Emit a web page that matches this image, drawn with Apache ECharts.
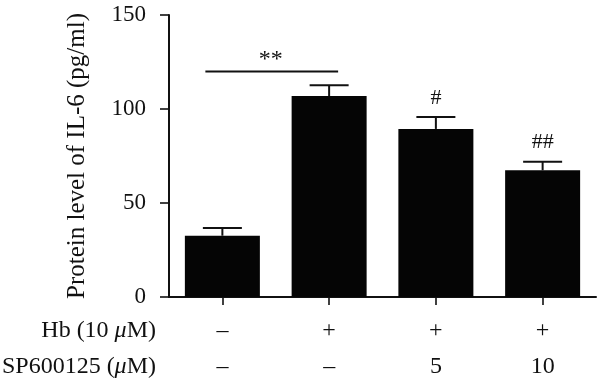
<!DOCTYPE html>
<html>
<head>
<meta charset="utf-8">
<script src="https://cdn.jsdelivr.net/npm/echarts@6/dist/echarts.min.js"></script>
<style>html,body{margin:0;padding:0;background:#fff;}#c{width:597px;height:385px;}</style>
</head>
<body>
<div id="c"></div>
<script>
const categories = ['Control', 'Hb', 'Hb+SP5', 'Hb+SP10'];
const means = [32.6, 106.9, 89.4, 67.4];
const errors = [4.1, 5.7, 6.3, 4.6];
const hbRow = ['–', '+', '+', '+'];
const spRow = ['–', '–', '5', '10'];
const marks = ['', '', '#', '##'];
const yTicks = [0, 50, 100, 150];
const sigLevel = 120;
const sigText = '**';

const FONT = 'Liberation Serif';
const chart = echarts.init(document.getElementById('c'), null, {renderer: 'canvas'});

const errData = categories.map((c, i) => [i, means[i], means[i] + errors[i], marks[i]]);

const option = {
  animation: false,
  backgroundColor: '#fff',
  grid: {left: 169, top: 15, right: 1, bottom: 88, outerBoundsMode: 'none', containLabel: false},
  xAxis: [
    {
      type: 'category', data: categories, position: 'bottom',
      axisLine: {lineStyle: {color: '#111', width: 2}},
      axisTick: {show: true, alignWithLabel: true, length: 8, lineStyle: {color: '#111', width: 1.6}},
      axisLabel: {show: false}
    },
    {
      type: 'category', data: hbRow, position: 'bottom', offset: 34,
      axisLine: {show: false}, axisTick: {show: false},
      axisLabel: {margin: 0, verticalAlign: 'middle', fontFamily: FONT, fontSize: 24, color: '#111'},
      name: 'Hb (10 {i|μ}M)', nameLocation: 'start', nameGap: 13,
      nameTextStyle: {fontFamily: FONT, fontSize: 24, color: '#111', verticalAlign: 'middle',
        rich: {i: {fontFamily: FONT, fontSize: 24, fontStyle: 'italic', color: '#111'}}}
    },
    {
      type: 'category', data: spRow, position: 'bottom', offset: 70,
      axisLine: {show: false}, axisTick: {show: false},
      axisLabel: {margin: 0, verticalAlign: 'middle', fontFamily: FONT, fontSize: 24, color: '#111'},
      name: 'SP600125 ({i|μ}M)', nameLocation: 'start', nameGap: 13,
      nameTextStyle: {fontFamily: FONT, fontSize: 24, color: '#111', verticalAlign: 'middle',
        rich: {i: {fontFamily: FONT, fontSize: 24, fontStyle: 'italic', color: '#111'}}}
    }
  ],
  yAxis: {
    type: 'value', min: yTicks[0], max: yTicks[yTicks.length - 1], interval: yTicks[1] - yTicks[0],
    name: 'Protein level of IL-6 (pg/ml)', nameLocation: 'middle', nameGap: 79,
    nameTextStyle: {fontFamily: FONT, fontSize: 25, color: '#111'},
    axisLine: {show: true, lineStyle: {color: '#111', width: 2}},
    axisTick: {show: true, length: 9, lineStyle: {color: '#111', width: 1.6}},
    axisLabel: {margin: 23, fontFamily: FONT, fontSize: 23, color: '#111'},
    splitLine: {show: false}
  },
  series: [
    {
      type: 'bar', data: means, barWidth: 75, xAxisIndex: 0,
      itemStyle: {color: '#050505'}, z: 2
    },
    {
      type: 'custom', xAxisIndex: 0, z: 3,
      data: errData,
      renderItem: function (params, api) {
        const x = api.value(0);
        const top = api.coord([x, api.value(1)]);
        const cap = api.coord([x, api.value(2)]);
        const half = 19.5;
        const children = [
          {type: 'line', shape: {x1: top[0], y1: top[1], x2: cap[0], y2: cap[1]}, style: {stroke: '#111', lineWidth: 2}},
          {type: 'line', shape: {x1: cap[0] - half, y1: cap[1], x2: cap[0] + half, y2: cap[1]}, style: {stroke: '#111', lineWidth: 2}}
        ];
        const m = errData[params.dataIndex][3];
        if (m) {
          children.push({type: 'text', style: {text: m, x: cap[0], y: cap[1] - 19, align: 'center', verticalAlign: 'middle',
            fontFamily: FONT, fontSize: 22, fill: '#111'}});
        }
        return {type: 'group', children: children};
      }
    },
    {
      type: 'custom', xAxisIndex: 0, z: 3,
      data: [[0, 1, sigLevel]],
      renderItem: function (params, api) {
        const a = api.coord([api.value(0), api.value(2)]);
        const b = api.coord([api.value(1), api.value(2)]);
        return {type: 'group', children: [
          {type: 'line', shape: {x1: a[0] - 17, y1: a[1], x2: b[0] + 9, y2: b[1]}, style: {stroke: '#111', lineWidth: 2}},
          {type: 'text', style: {text: sigText, x: (a[0] + b[0]) / 2 - 5, y: a[1] - 12, align: 'center', verticalAlign: 'middle',
            fontFamily: FONT, fontSize: 24, fill: '#111'}}
        ]};
      }
    }
  ]
};
chart.setOption(option);
</script>
</body>
</html>
